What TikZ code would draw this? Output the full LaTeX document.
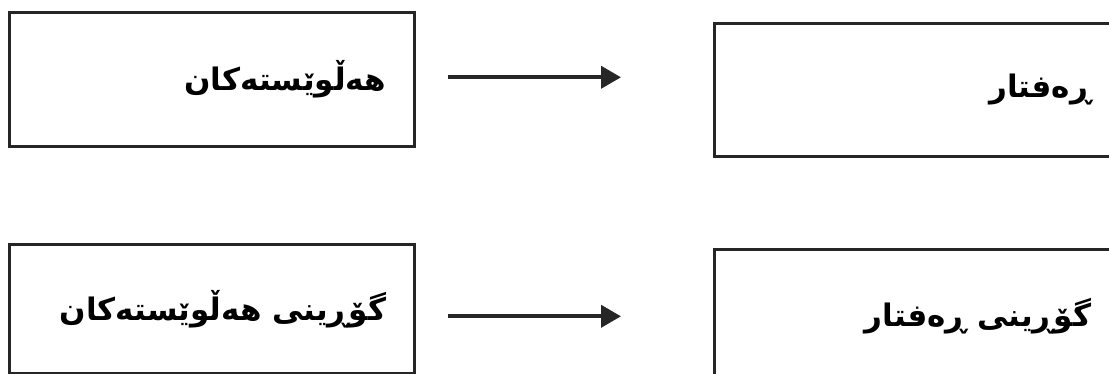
\documentclass[tikz,border=0pt]{standalone}
\usepackage{fontspec}
\usetikzlibrary{arrows.meta}
\TeXXeTstate=1
\newfontfamily\arabicfont[Script=Arabic]{DejaVu Sans}
\begin{document}
\begin{tikzpicture}[x=1pt,y=1pt,
  box/.style={draw=black!85, line width=2.6pt, rectangle, anchor=north west,
    minimum width=405pt, inner xsep=28pt, inner ysep=0pt,
    text width=349pt, align=right, font=\arabicfont\bfseries\fontsize{31}{36}\selectfont},
  arr/.style={draw=black!85, line width=4pt, -{Triangle[length=20pt,width=22pt]}}]
\useasboundingbox[fill=white] (0,0) rectangle (1109,-374);
\node[box, minimum height=134pt] (b1) at (8,-11) {\raisebox{1pt}{\beginR هەڵوێستەکان\endR}};
\node[box, minimum height=133pt] (b2) at (713,-22) {\beginR ڕەفتار\endR};
\node[box, minimum height=129pt] (b3) at (8,-243) {\raisebox{6pt}{\beginR گۆڕینی هەڵوێستەکان\endR}};
\node[box, minimum height=134pt] (b4) at (713,-248) {\beginR گۆڕینی ڕەفتار\endR};
\draw[arr] ([xshift=32pt,yshift=2pt]b1.east) -- ([xshift=-92pt,yshift=12.5pt]b2.west);
\draw[arr] ([xshift=32pt,yshift=-7.5pt]b3.east) -- ([xshift=-92pt,yshift=0pt]b4.west);
\end{tikzpicture}
\end{document}
